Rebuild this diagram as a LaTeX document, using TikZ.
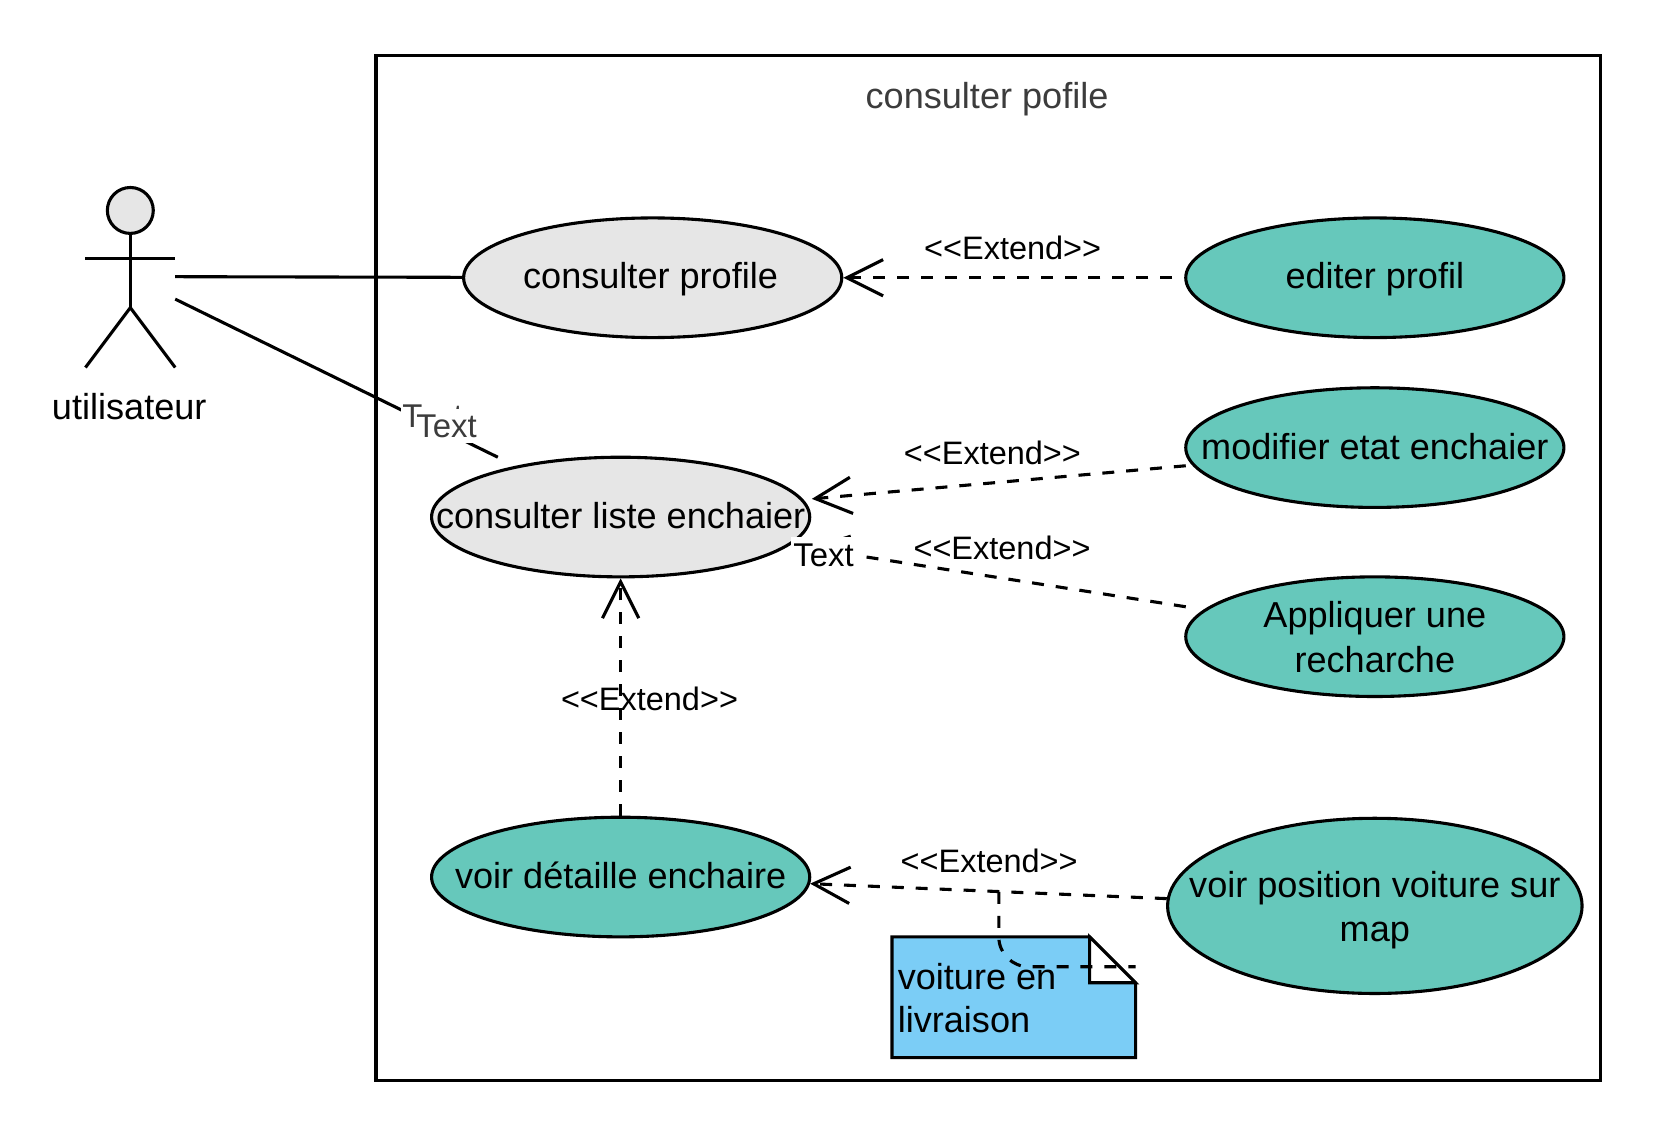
\documentclass[tikz,border=0pt]{standalone}
\usepackage{fontspec}
\setmainfont{Liberation Sans}
\usetikzlibrary{shapes.geometric,arrows.meta}
\definecolor{usegray}{HTML}{E6E6E6}
\definecolor{useteal}{HTML}{66C8BB}
\definecolor{noteblue}{HTML}{7BCDF6}
\definecolor{titlegray}{HTML}{3C3C3C}
\newcommand{\extendtext}{{<}{<}Extend{>}{>}}
\tikzset{
  usecase/.style={draw,ellipse,line width=1.45pt,minimum width=177pt,minimum height=56pt,inner sep=0pt},
  casetext/.style={align=center,inner sep=0pt,font=\fontsize{16.9}{21}\selectfont},
  extendlabel/.style={inner sep=0pt,font=\fontsize{15.2}{18}\selectfont},
  hidetext/.style={fill=white,inner sep=0pt,font=\fontsize{15.4}{18}\selectfont},
  assoc/.style={line width=1.45pt},
  notelink/.style={line width=1.45pt,dash pattern=on 5.6pt off 5.6pt},
  extendline/.style={notelink,-{Straight Barb[length=17pt,width=17pt]}}
}
\begin{document}
\begin{tikzpicture}[x=0.5pt,y=-0.5pt]
\useasboundingbox (0,0) rectangle (1568,1050.3);

%drawing system box
\node[draw,line width=1.45pt,minimum width=573pt,minimum height=480pt,inner sep=0pt] (systembox) at (925,531.7) {};
\node[casetext,text=titlegray] (systemtitle) at (924,93) {consulter pofile};

%drawing actor
\node[draw,circle,fill=usegray,line width=1.45pt,minimum size=21.5pt,inner sep=0pt] (head) at (122,197) {};
\coordinate (hip) at (122,288);
\coordinate (armleft) at (80,242);
\coordinate (armright) at (164,242);
\coordinate (footleft) at (80,344);
\coordinate (footright) at (164,344);
\draw[assoc] (head) -- (hip);
\draw[assoc] (armleft) -- (armright);
\draw[assoc] (footleft) -- (hip) -- (footright);
\node[casetext] (actorname) at (121,381) {utilisateur};

%drawing use cases
\node[usecase,fill=usegray,label={[casetext,xshift=-1pt,yshift=-0.5pt]center:consulter profile}] (profile) at (611,260) {};
\node[usecase,fill=useteal,label={[casetext,yshift=-0.5pt]center:editer profil}] (editer) at (1287,260) {};
\node[usecase,fill=useteal,label={[casetext,yshift=0.5pt]center:modifier etat enchaier}] (modifier) at (1287,419) {};
\node[usecase,fill=useteal,label={[casetext]center:Appliquer une\\recharche}] (appliquer) at (1287,596) {};
\node[usecase,fill=usegray,label={[casetext,yshift=0.5pt]center:consulter liste enchaier}] (liste) at (581,484) {};
\node[usecase,fill=useteal,label={[casetext,yshift=1pt]center:voir détaille enchaire}] (detaille) at (581,821) {};
\node[usecase,fill=useteal,minimum width=194pt,minimum height=82pt,label={[casetext,yshift=-2pt]center:voir position voiture sur\\map}] (position) at (1287,848) {};

%drawing note
\draw[line width=1.45pt,fill=noteblue] (835,877)--(1020,877)--(1063,920)--(1063,990)--(835,990)--cycle;
\draw[line width=1.45pt,fill=white] (1020,877)--(1063,920)--(1020,920)--cycle;
\node[casetext,anchor=west,align=left,font=\fontsize{16.9}{20}\selectfont] (notetext) at (840,934) {voiture en\\livraison};

%connecting actor
\coordinate (actorone) at (164,259);
\coordinate (actortwo) at (164,280);
\coordinate (listetop) at (466,428);
\draw[assoc] (actorone) -- (profile);
\draw[assoc] (actortwo) -- (listetop);

%connecting extends
\coordinate (modifierend) at (1110,436);
\coordinate (listeright) at (760,467);
\coordinate (appliquerend) at (1110,568);
\coordinate (listeside) at (757,513);
\coordinate (positionlink) at (935,835);
\coordinate (noteend) at (1063,905);
\draw[extendline,dash phase=5.6pt] (editer) -- (profile);
\draw[extendline] (modifierend) -- (listeright);
\draw[extendline] (appliquerend) -- (listeside);
\draw[extendline] (detaille) -- (liste);
\draw[extendline] (position.178) -- (detaille.-2);
\draw[notelink,rounded corners=14pt] (positionlink) -- (935,905) -- (noteend);

%drawing labels
\node[extendlabel] (extendone) at (948,232) {\extendtext};
\node[extendlabel] (extendtwo) at (929,424) {\extendtext};
\node[extendlabel] (extendthree) at (938,513) {\extendtext};
\node[extendlabel] (extendfour) at (608,654) {\extendtext};
\node[extendlabel] (extendfive) at (926,806) {\extendtext};

% Text left on the lines
\node[hidetext,text=titlegray,minimum width=29.5pt,minimum height=16pt] (textunder) at (405,390) {Text};
\node[hidetext,text=titlegray,minimum width=28.5pt,minimum height=16pt] (textover) at (418,399) {Text};
\node[hidetext,minimum width=30.5pt,minimum height=17pt] (textside) at (771,520) {Text};
\end{tikzpicture}
\end{document}
